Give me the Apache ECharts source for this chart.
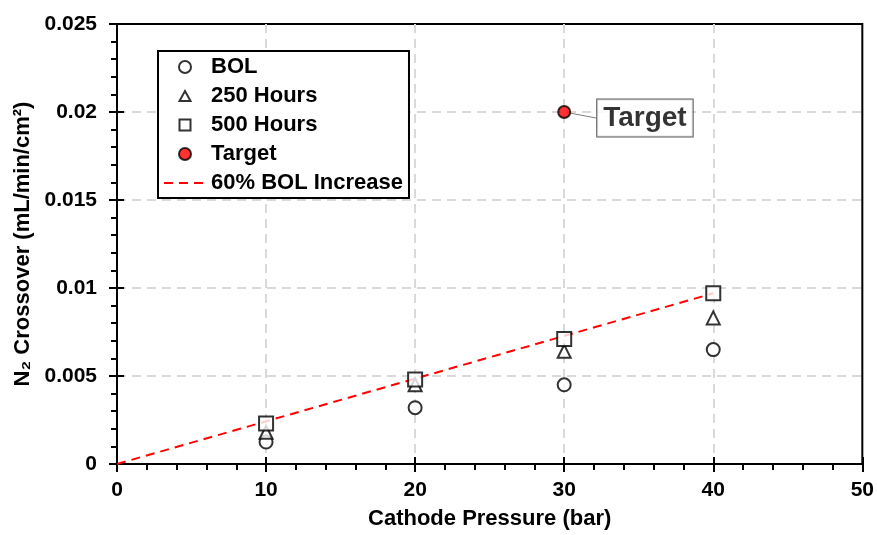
<!DOCTYPE html>
<html>
<head>
<meta charset="utf-8">
<script src="https://cdn.jsdelivr.net/npm/echarts@6/dist/echarts.min.js"></script>
<style>
html,body{margin:0;padding:0;background:#fff;}
#chart{width:877px;height:535px;}
</style>
</head>
<body>
<div id="chart"></div>
<script>
// ---- data ----
const pressure = [10, 20, 30, 40];
const bolValues = [0.00125, 0.0032, 0.0045, 0.0065];
const h250Values = [0.0018, 0.0045, 0.0064, 0.0083];
const h500Values = [0.0023, 0.0048, 0.0071, 0.0097];
const targetX = [30];
const targetY = [0.02];
const increaseX = [0, 40];
const increaseY = [0, 0.0097];
const xTicks = [0, 10, 20, 30, 40, 50];
const yTicks = [0, 0.005, 0.01, 0.015, 0.02, 0.025];

const pairs = (xs, ys) => xs.map((x, i) => [x, ys[i]]);
const FONT = '"Liberation Sans", Arial, sans-serif';

const chart = echarts.init(document.getElementById('chart'), null, {renderer: 'canvas'});

const gridLine = {show: true, showMinLine: false, showMaxLine: false, lineStyle: {color: '#d9d9d9', width: 2, type: [9, 6]}};
const markerStyle = {color: '#fff', borderColor: '#000', borderWidth: 2};

// legend icons padded to the full 42x12 legend icon box so they keep their shape
const triIcon = 'path://M0,0M42,12M21,1L26.5,11L15.5,11Z';
const rectIcon = 'path://M0,0M42,12M15.5,0.5L26.5,0.5L26.5,11.5L15.5,11.5Z';

chart.setOption({
  animation: false,
  backgroundColor: '#fff',
  grid: {left: 117, right: 14, top: 24, bottom: 70, show: true, borderColor: '#000', borderWidth: 2, backgroundColor: 'transparent'},
  legend: {
    orient: 'vertical',
    left: 158, top: 51,
    padding: [5, 6, 4, 5],
    itemGap: 7,
    itemWidth: 42, itemHeight: 12,
    backgroundColor: '#fff',
    borderColor: '#000', borderWidth: 2,
    textStyle: {fontFamily: FONT, fontWeight: 'bold', fontSize: 22, color: '#000'},
    data: [
      'BOL',
      {name: '250 Hours', icon: triIcon},
      {name: '500 Hours', icon: rectIcon},
      'Target',
      {name: '60% BOL Increase', itemStyle: {opacity: 0}}
    ]
  },
  xAxis: [{
    type: 'value', min: xTicks[0], max: xTicks[xTicks.length - 1], interval: 10,
    name: 'Cathode Pressure (bar)', nameLocation: 'middle', nameGap: 44,
    nameTextStyle: {fontFamily: FONT, fontWeight: 'bold', fontSize: 22, color: '#000'},
    axisLine: {lineStyle: {color: '#000', width: 2}},
    axisTick: {show: true, length: 8, lineStyle: {color: '#000', width: 2}},
    minorTick: {show: true, splitNumber: 5, length: 6, lineStyle: {color: '#000', width: 2}},
    axisLabel: {fontFamily: FONT, fontWeight: 'bold', fontSize: 21, color: '#000', margin: 16},
    splitLine: gridLine
  }, {
    type: 'value', min: xTicks[0], max: xTicks[xTicks.length - 1], interval: 10, position: 'bottom',
    axisLine: {show: false},
    axisTick: {show: true, inside: true, length: 7, lineStyle: {color: '#000', width: 2}},
    axisLabel: {show: false}, splitLine: {show: false}
  }],
  yAxis: [{
    type: 'value', min: yTicks[0], max: yTicks[yTicks.length - 1], interval: 0.005,
    name: 'N\u2082 Crossover (mL/min/cm\u00B2)', nameLocation: 'middle', nameGap: 83,
    nameTextStyle: {fontFamily: FONT, fontWeight: 'bold', fontSize: 22, color: '#000'},
    axisLine: {lineStyle: {color: '#000', width: 2}},
    axisTick: {show: true, length: 8, lineStyle: {color: '#000', width: 2}},
    minorTick: {show: true, splitNumber: 5, length: 6, lineStyle: {color: '#000', width: 2}},
    axisLabel: {fontFamily: FONT, fontWeight: 'bold', fontSize: 21, color: '#000', margin: 20},
    splitLine: gridLine
  }, {
    type: 'value', min: yTicks[0], max: yTicks[yTicks.length - 1], interval: 0.005, position: 'left',
    axisLine: {show: false},
    axisTick: {show: true, inside: true, length: 7, lineStyle: {color: '#000', width: 2}},
    axisLabel: {show: false}, splitLine: {show: false}
  }],
  series: [
    {name: '60% BOL Increase', type: 'line', symbol: 'none', z: 2,
     lineStyle: {color: '#ff0000', width: 2, type: [9, 6]}, itemStyle: {color: '#ff0000'},
     data: pairs(increaseX, increaseY)},
    {name: 'BOL', type: 'scatter', symbol: 'circle', symbolSize: 13, z: 3,
     itemStyle: markerStyle, data: pairs(pressure, bolValues)},
    {name: '250 Hours', type: 'scatter', symbol: 'triangle', symbolSize: 13, z: 4,
     itemStyle: markerStyle, data: pairs(pressure, h250Values)},
    {name: '500 Hours', type: 'scatter', symbol: 'rect', symbolSize: 14, z: 5,
     itemStyle: markerStyle, data: pairs(pressure, h500Values)},
    {name: 'Target', type: 'scatter', symbol: 'circle', symbolSize: 12, z: 6,
     itemStyle: {color: '#ff0000', borderColor: '#000', borderWidth: 2},
     label: {show: true, formatter: 'Target', position: 'right', distance: 26,
       fontFamily: FONT, fontWeight: 'bold', fontSize: 28, color: '#000',
       backgroundColor: '#fff', borderColor: '#333', borderWidth: 1, padding: [5, 6, 4, 6]},
     labelLayout: {dy: 6},
     labelLine: {show: true, lineStyle: {color: '#808080', width: 1}},
     data: pairs(targetX, targetY)}
  ]
});
</script>
</body>
</html>
